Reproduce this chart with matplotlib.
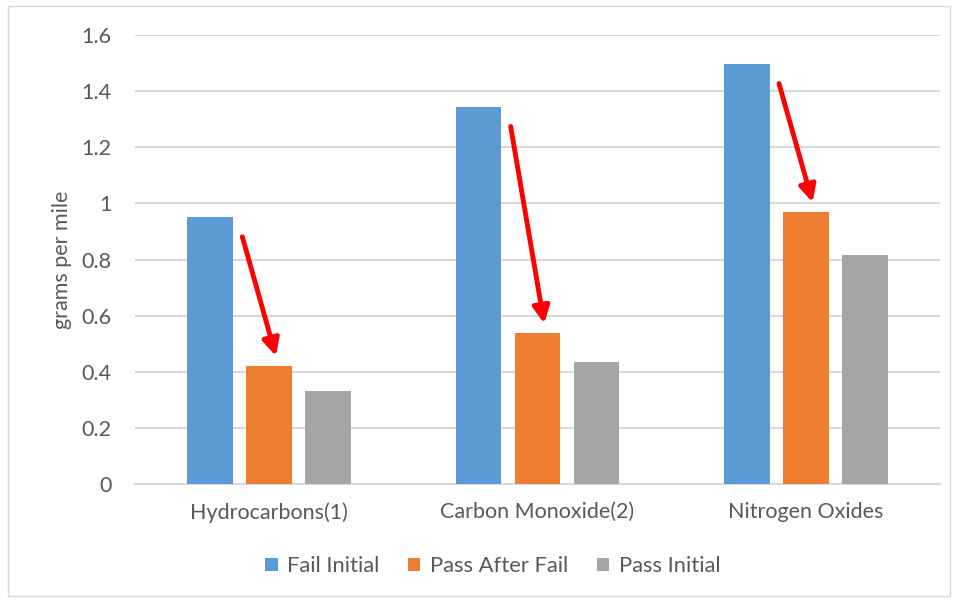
import matplotlib
matplotlib.use("Agg")
import matplotlib.pyplot as plt
import numpy as np
from matplotlib.patches import Rectangle

categories = ["Hydrocarbons(1)", "Carbon Monoxide(2)", "Nitrogen Oxides"]
series = ["Fail Initial", "Pass After Fail", "Pass Initial"]
fail_initial = [0.951, 1.344, 1.497]
pass_after_fail = [0.421, 0.537, 0.969]
pass_initial = [0.331, 0.436, 0.815]
yticks = [0, 0.2, 0.4, 0.6, 0.8, 1, 1.2, 1.4, 1.6]
yticklabels = ["0", "0.2", "0.4", "0.6", "0.8", "1", "1.2", "1.4", "1.6"]

colors = ["#5b9bd5", "#ed7d31", "#a5a5a5"]
textcolor = "#595959"
plt.rcParams['font.family'] = ['Lato', 'DejaVu Sans']

fig = plt.figure(figsize=(9.58, 6.01), dpi=100)
ax = fig.add_axes([135/958, 1-484/601, (940-135)/958, (484-35)/601])

x = np.arange(len(categories))
width = 0.171
offset = 0.22
for i, (vals, name) in enumerate(zip([fail_initial, pass_after_fail, pass_initial], series)):
    ax.bar(x + (i-1)*offset, vals, width, color=colors[i], label=name, zorder=3)

# red arrows from fail to pass-after-fail
for xi, a, b in zip(x, fail_initial, pass_after_fail):
    ax.annotate("", xy=(xi+0.025, b+0.035), xytext=(xi-0.1, a-0.07),
                arrowprops=dict(arrowstyle="-|>,head_length=1.0,head_width=0.5",
                                color="red", lw=3.5, shrinkA=0, shrinkB=0), zorder=5)

ax.set_xlim(-0.5, 2.5)
ax.set_ylim(0, 1.6)
ax.set_yticks(yticks)
ax.set_yticklabels(yticklabels)
ax.set_xticks(x)
ax.set_xticklabels(categories)
ax.grid(axis='y', color="#d9d9d9", lw=1.5, zorder=0)
for s in ["top", "right", "left"]:
    ax.spines[s].set_visible(False)
ax.spines["bottom"].set_color("#d9d9d9")
ax.spines["bottom"].set_linewidth(1.5)
ax.tick_params(axis='both', length=0, labelsize=15.5, colors=textcolor)
ax.tick_params(axis='y', pad=17)
ax.tick_params(axis='x', pad=13)
ax.set_ylabel("grams per mile", fontsize=15.5, color=textcolor, labelpad=7)

leg = fig.legend(loc="center", bbox_to_anchor=(493/958, 1-566/601), ncol=3,
                 frameon=False, fontsize=15.8, handlelength=0.55, handleheight=0.55,
                 columnspacing=1.3, handletextpad=0.45)
for t in leg.get_texts():
    t.set_color(textcolor)

fig.patches.append(Rectangle((8/958, 5/601), 942/958, 590/601, transform=fig.transFigure,
                             fill=False, edgecolor="#d9d9d9", lw=1))

fig.savefig("out.png", dpi=100)
